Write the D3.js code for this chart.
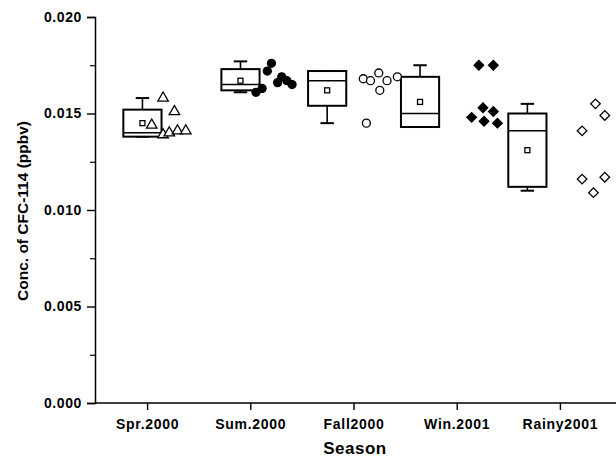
<!DOCTYPE html>
<html>
<head>
<meta charset="utf-8">
<script src="https://cdn.jsdelivr.net/npm/d3@7/dist/d3.min.js"></script>
<style>
  html, body { margin: 0; padding: 0; background: #fff; }
  svg { display: block; }
  text { font-family: "Liberation Sans", Arial, Helvetica, sans-serif; fill: #000; }
</style>
</head>
<body>
<svg id="chart" width="616" height="463"></svg>
<script>
// Seasons along the x axis
const seasons = ["Spr.2000", "Sum.2000", "Fall2000", "Win.2001", "Rainy2001"];

// Box statistics per season (ppbv)
const whiskerHigh = [0.0158, 0.0177, 0.0172, 0.0175, 0.0155];
const boxHigh     = [0.0152, 0.0173, 0.0172, 0.0169, 0.0150];
const medians     = [0.0140, 0.0165, 0.0167, 0.0150, 0.0141];
const means       = [0.0145, 0.0167, 0.0162, 0.0156, 0.0131];
const boxLow      = [0.0138, 0.0162, 0.0154, 0.0143, 0.0112];
const whiskerLow  = [0.0138, 0.0161, 0.0145, 0.0144, 0.0110];

// Individual samples per season (ppbv)
const sprSamples   = [0.0158, 0.0151, 0.0144, 0.0139, 0.0140, 0.0141, 0.0141];
const sumSamples   = [0.0161, 0.0163, 0.0172, 0.0176, 0.0166, 0.0169, 0.0167, 0.0165];
const fallSamples  = [0.0168, 0.0145, 0.0167, 0.0171, 0.0162, 0.0167, 0.0169];
const winSamples   = [0.0148, 0.0175, 0.0153, 0.0146, 0.0175, 0.0151, 0.0145];
const rainySamples = [0.0141, 0.0116, 0.0155, 0.0109, 0.0149, 0.0117];
const samples = [sprSamples, sumSamples, fallSamples, winSamples, rainySamples];

// Horizontal spread of the sample markers, as a fraction of the band width
const sprSpread   = [0.15, 0.26, 0.04, 0.15, 0.21, 0.29, 0.37];
const sumSpread   = [0.05, 0.11, 0.16, 0.20, 0.26, 0.30, 0.35, 0.40];
const fallSpread  = [0.09, 0.12, 0.16, 0.24, 0.25, 0.32, 0.42];
const winSpread   = [0.14, 0.21, 0.25, 0.26, 0.35, 0.35, 0.39];
const rainySpread = [0.21, 0.21, 0.34, 0.32, 0.43, 0.43];
const spreads = [sprSpread, sumSpread, fallSpread, winSpread, rainySpread];

// Where each box sits relative to its tick, as a fraction of the band width
const boxShift = [-0.05, -0.10, -0.26, -0.36, -0.32];

const yTicks = [0, 0.005, 0.010, 0.015, 0.020];
const yMinorTicks = [0.0025, 0.0075, 0.0125, 0.0175];

const svg = d3.select("#chart");
const W = 616;
const left = 95;

const x = d3.scaleBand().domain(seasons).range([96, 612]);
const y = d3.scaleLinear().domain([0, 0.020]).range([403, 17]);

// Axes
const yAxis = svg.append("g").attr("transform", `translate(${left},0)`)
  .call(d3.axisLeft(y).tickValues(yTicks).tickFormat(d3.format(".3f")).tickSize(8).tickPadding(5));
yAxis.select(".domain").attr("stroke", "#000").attr("stroke-width", 1.5);
yAxis.selectAll(".tick line").attr("stroke-width", 1.4);
yAxis.selectAll("text").attr("font-size", 14).attr("font-weight", "bold").attr("letter-spacing", 0.6);

svg.append("g").attr("transform", `translate(${left},0)`)
  .call(d3.axisLeft(y).tickValues(yMinorTicks).tickFormat("").tickSize(5))
  .call(g => g.select(".domain").remove())
  .selectAll(".tick line").attr("stroke-width", 1.2);

const xAxis = svg.append("g").attr("transform", `translate(0,${y(0)})`)
  .call(d3.axisBottom(x).tickSize(7).tickPadding(9).tickSizeOuter(0));
xAxis.select(".domain").attr("d", `M${left},0H${W}`).attr("stroke-width", 1.5);
xAxis.selectAll(".tick line").attr("stroke-width", 1.4);
xAxis.selectAll("text").attr("font-size", 14).attr("font-weight", "bold").attr("letter-spacing", 0.7);

// Axis titles
svg.append("text").attr("x", 355).attr("y", 454).attr("text-anchor", "middle")
  .attr("font-size", 17).attr("font-weight", "bold").attr("letter-spacing", 0.5).text("Season");
svg.append("text").attr("transform", "translate(28,211) rotate(-90)").attr("text-anchor", "middle")
  .attr("font-size", 15.5).attr("font-weight", "bold").text("Conc. of CFC-114 (ppbv)");

// Box plots
const bw = x.bandwidth();
const boxW = 0.37 * bw;
const capW = 0.13 * bw;
const plot = svg.append("g");

seasons.forEach((s, i) => {
  const cx = x(s) + bw * (0.5 + boxShift[i]);
  const g = plot.append("g");
  // whiskers
  g.append("line").attr("x1", cx).attr("x2", cx).attr("y1", y(whiskerHigh[i])).attr("y2", y(boxHigh[i]))
    .attr("stroke", "#000").attr("stroke-width", 1.6);
  g.append("line").attr("x1", cx).attr("x2", cx).attr("y1", y(boxLow[i])).attr("y2", y(whiskerLow[i]))
    .attr("stroke", "#000").attr("stroke-width", 1.6);
  [whiskerHigh[i], whiskerLow[i]].forEach(v => {
    g.append("line").attr("x1", cx - capW / 2).attr("x2", cx + capW / 2).attr("y1", y(v)).attr("y2", y(v))
      .attr("stroke", "#000").attr("stroke-width", 2);
  });
  // box
  g.append("rect").attr("x", cx - boxW / 2).attr("width", boxW)
    .attr("y", y(boxHigh[i])).attr("height", y(boxLow[i]) - y(boxHigh[i]))
    .attr("fill", "#fff").attr("stroke", "#000").attr("stroke-width", 2);
  // median
  g.append("line").attr("x1", cx - boxW / 2).attr("x2", cx + boxW / 2)
    .attr("y1", y(medians[i])).attr("y2", y(medians[i])).attr("stroke", "#000").attr("stroke-width", 1.5);
  // mean
  g.append("rect").attr("x", cx - 2.5).attr("y", y(means[i]) - 2.5).attr("width", 5).attr("height", 5)
    .attr("fill", "#fff").attr("stroke", "#000").attr("stroke-width", 1.3);
});

// Sample markers
const symbolTypes = [d3.symbolTriangle, d3.symbolCircle, d3.symbolCircle, d3.symbolSquare, d3.symbolSquare];
const symbolFill = ["#fff", "#000", "#fff", "#000", "#fff"];
const symbolSize = [48, 50, 50, 46, 46];
const symbolTurn = [0, 0, 0, 45, 45];

seasons.forEach((s, i) => {
  const base = x(s) + bw * 0.5;
  const sym = d3.symbol().type(symbolTypes[i]).size(symbolSize[i]);
  plot.append("g").selectAll("path").data(samples[i]).join("path")
    .attr("d", sym)
    .attr("transform", (d, j) => `translate(${base + spreads[i][j] * bw},${y(d)}) rotate(${symbolTurn[i]})`)
    .attr("fill", symbolFill[i]).attr("stroke", "#000").attr("stroke-width", 1.3);
});
</script>
</body>
</html>
